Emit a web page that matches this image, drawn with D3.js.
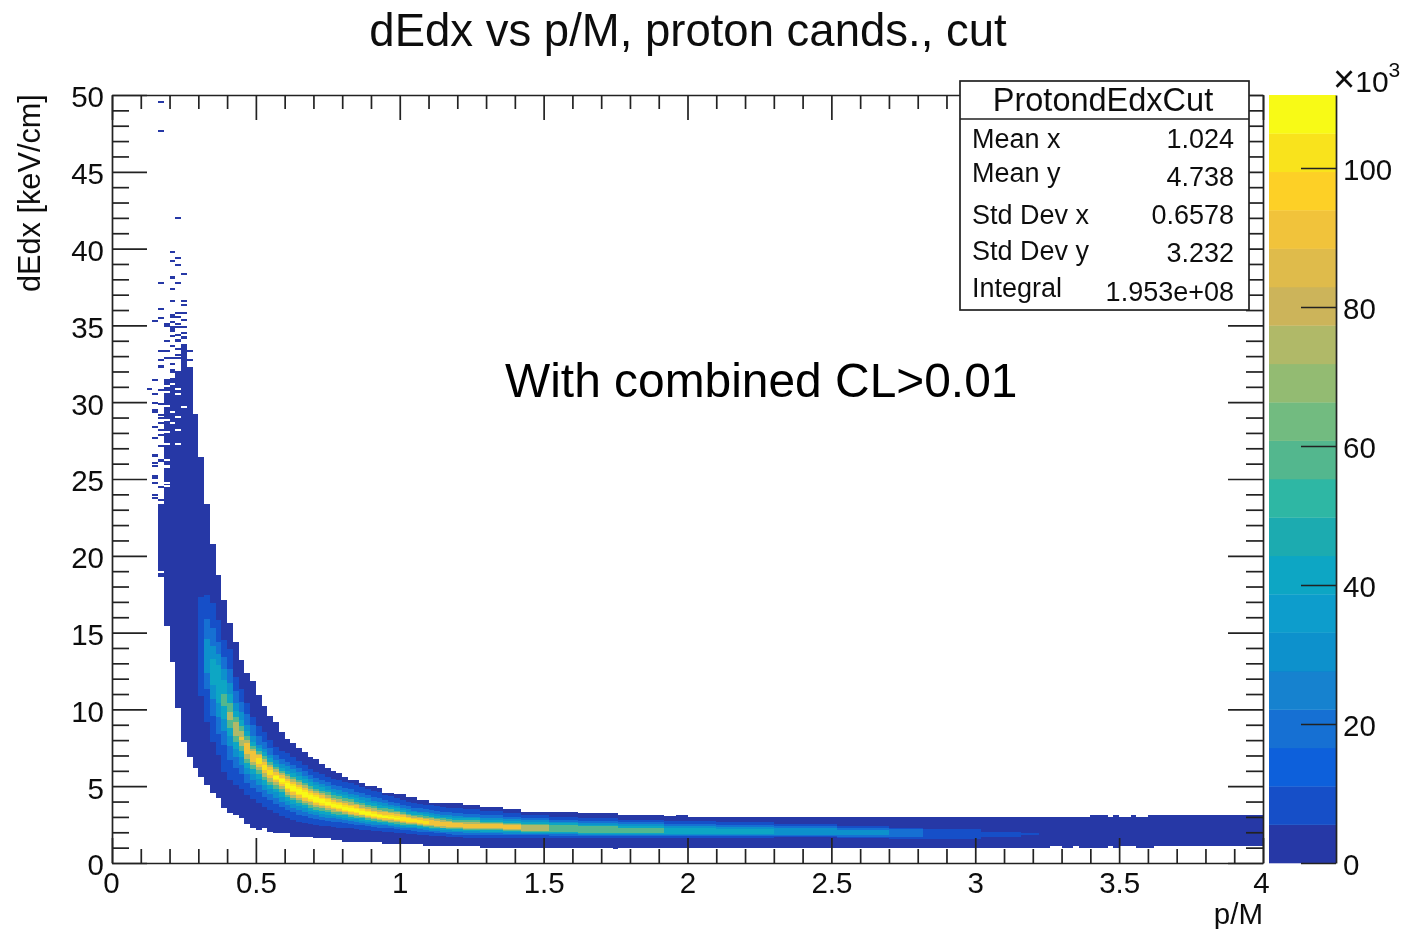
<!DOCTYPE html>
<html lang="en">
<head>
<meta charset="UTF-8">
<title>dEdx vs p/M, proton cands., cut</title>
<style>
  body { margin: 0; background: #fff; overflow: hidden; }
  svg { display: block; }
  text { font-family: "Liberation Sans", Arial, sans-serif; fill: #111; }
  .tick text { font-size: 29.5px; }
  .tick line, .domain { stroke: #222; stroke-width: 1.7px; }
</style>
</head>
<body>
<svg id="chart" width="1410" height="929">
  <defs>
    <filter id="soft" x="0" y="0" width="100%" height="100%">
      <feGaussianBlur stdDeviation="0.6"/>
    </filter>
  </defs>
</svg>
<script src="https://cdn.jsdelivr.net/npm/d3@7"></script>
<script>
// histogram binning
const binWidth = 0.02;
const rowHeight = 0.13;

// colour levels of the palette, bottom to top
const palette = ["#2837a6", "#1450c8", "#0f61db", "#1270d3", "#1282cf", "#0f91cc", "#0a9dcc", "#0ba6c4",
  "#1cabb0", "#2fb7a4", "#52b78e", "#72bb80", "#93bb72", "#b0b968", "#ccb45a", "#dfbb4b",
  "#f1c33a", "#fdd028", "#f9e31b", "#f8fa14"];

// which palette level each lo,hi pair of a row is
const bandLevels = [1, 2, 4, 6, 8, 11, 14, 17, 19, 20, 20, 20];

// from bin, to bin, then lo,hi dEdx for each level
const bandRows = [
  [8, 8, 18.6, 23.4],
  [9, 9, 15.4, 31.5],
  [10, 10, 13.1, 31.6],
  [11, 11, 10.1, 32.0],
  [12, 12, 7.9, 33.8],
  [13, 13, 6.9, 32.3],
  [14, 14, 6.2, 29.2],
  [15, 15, 5.6, 26.4, 10.9, 17.3],
  [16, 16, 5.1, 23.4, 9.2, 17.45, 11.3, 15.9, 12.4, 14.6],
  [17, 17, 4.55, 20.8, 7.9, 16.9, 9.6, 15.3, 10.7, 14.1, 11.6, 13.3],
  [18, 18, 4.2, 18.75, 7.0, 15.8, 8.4, 14.4, 9.5, 13.6, 10.4, 12.9],
  [19, 19, 3.6, 17.1, 5.95, 14.5, 7.7, 13.4, 8.6, 12.6, 9.4, 11.9, 10.2, 11.0],
  [20, 20, 3.25, 15.6, 5.4, 13.9, 6.7, 12.6, 7.6, 11.7, 8.3, 11.0, 8.8, 10.4, 9.3, 9.8],
  [21, 21, 3.1, 14.4, 5.1, 12.1, 6.2, 11.2, 6.9, 10.4, 7.4, 9.9, 7.9, 9.5, 8.3, 9.2],
  [22, 22, 2.9, 13.2, 4.8, 11.3, 5.8, 10.5, 6.4, 9.8, 6.9, 9.3, 7.3, 8.9, 7.6, 8.6, 8.0, 8.2],
  [23, 23, 2.55, 12.4, 4.4, 10.4, 5.2, 9.7, 5.8, 9.0, 6.2, 8.6, 6.5, 8.3, 6.8, 8.0, 7.1, 7.8],
  [24, 24, 2.25, 11.85, 4.15, 9.5, 4.9, 9.0, 5.4, 8.3, 5.8, 7.9, 6.1, 7.6, 6.4, 7.4, 6.6, 7.3],
  [25, 25, 2.15, 10.95, 3.9, 8.9, 4.6, 8.3, 5.1, 7.7, 5.5, 7.5, 5.8, 7.3, 6.05, 7.1, 6.25, 7.0, 6.45, 6.85],
  [26, 26, 2.25, 10.2, 3.65, 8.5, 4.3, 7.9, 4.75, 7.4, 5.1, 7.2, 5.4, 6.95, 5.6, 6.75, 5.85, 6.6, 6.05, 6.4],
  [27, 27, 2.0, 9.6, 3.45, 8.0, 4.1, 7.5, 4.5, 7.05, 4.85, 6.85, 5.1, 6.6, 5.3, 6.4, 5.55, 6.25, 5.7, 6.05],
  [28, 28, 1.95, 9.2, 3.25, 7.55, 3.85, 7.0, 4.25, 6.7, 4.6, 6.45, 4.85, 6.25, 5.05, 6.1, 5.25, 5.9, 5.4, 5.75, 5.5, 5.65],
  [29, 29, 1.95, 8.5, 3.05, 7.3, 3.65, 6.8, 4.0, 6.45, 4.3, 6.2, 4.6, 6.0, 4.8, 5.85, 5.0, 5.7, 5.15, 5.55, 5.25, 5.45],
  [30, 30, 1.95, 8.05, 2.9, 7.15, 3.45, 6.6, 3.75, 6.3, 4.05, 6.0, 4.3, 5.8, 4.45, 5.65, 4.65, 5.5, 4.8, 5.35, 4.9, 5.2],
  [31, 31, 1.7, 7.8, 2.8, 6.9, 3.3, 6.4, 3.6, 6.1, 3.85, 5.85, 4.1, 5.6, 4.25, 5.45, 4.45, 5.3, 4.6, 5.15, 4.7, 5.0],
  [32, 32, 1.7, 7.5, 2.7, 6.65, 3.15, 6.2, 3.45, 5.9, 3.7, 5.65, 3.9, 5.4, 4.1, 5.25, 4.25, 5.1, 4.4, 4.95, 4.5, 4.8],
  [33, 33, 1.7, 7.25, 2.6, 6.4, 3.05, 6.0, 3.3, 5.65, 3.55, 5.45, 3.75, 5.2, 3.9, 5.05, 4.05, 4.9, 4.2, 4.75, 4.3, 4.6],
  [34, 34, 1.7, 6.9, 2.55, 6.15, 2.95, 5.75, 3.2, 5.45, 3.4, 5.25, 3.6, 5.0, 3.75, 4.85, 3.95, 4.7, 4.05, 4.55, 4.15, 4.45],
  [35, 35, 1.6, 6.75, 2.47, 5.95, 2.85, 5.55, 3.1, 5.3, 3.3, 5.05, 3.45, 4.85, 3.65, 4.7, 3.8, 4.55, 3.9, 4.4, 4.0, 4.3],
  [36, 36, 1.6, 6.45, 2.42, 5.8, 2.8, 5.4, 3.0, 5.15, 3.2, 4.95, 3.4, 4.7, 3.55, 4.55, 3.7, 4.4, 3.8, 4.25, 3.9, 4.15],
  [37, 37, 1.6, 6.2, 2.38, 5.6, 2.75, 5.25, 2.95, 5.0, 3.15, 4.75, 3.3, 4.6, 3.45, 4.4, 3.6, 4.25, 3.7, 4.15, 3.8, 4.0],
  [38, 38, 1.5, 6.0, 2.34, 5.5, 2.7, 5.1, 2.9, 4.85, 3.05, 4.6, 3.2, 4.45, 3.35, 4.25, 3.5, 4.1, 3.6, 4.0, 3.65, 3.87],
  [39, 39, 1.5, 5.85, 2.3, 5.4, 2.65, 5.0, 2.85, 4.75, 3.0, 4.5, 3.15, 4.35, 3.3, 4.15, 3.4, 4.0, 3.5, 3.9, 3.57, 3.77],
  [40, 40, 1.37, 5.6, 2.28, 5.3, 2.6, 4.9, 2.8, 4.65, 2.95, 4.4, 3.1, 4.25, 3.2, 4.05, 3.3, 3.9, 3.4, 3.8, 3.47, 3.67],
  [41, 41, 1.37, 5.4, 2.25, 5.2, 2.55, 4.8, 2.75, 4.5, 2.85, 4.3, 3.0, 4.15, 3.1, 3.95, 3.2, 3.8, 3.3, 3.7, 3.37, 3.57],
  [42, 42, 1.37, 5.4, 2.2, 5.05, 2.5, 4.65, 2.7, 4.4, 2.85, 4.2, 2.95, 4.0, 3.05, 3.85, 3.15, 3.75, 3.25, 3.6, 3.32, 3.5],
  [43, 43, 1.37, 5.2, 2.17, 4.95, 2.45, 4.55, 2.6, 4.3, 2.75, 4.1, 2.9, 3.9, 3.0, 3.75, 3.1, 3.6, 3.15, 3.5, 3.22, 3.4],
  [44, 44, 1.37, 5.0, 2.13, 4.85, 2.4, 4.4, 2.55, 4.2, 2.7, 4.0, 2.8, 3.8, 2.9, 3.65, 3.0, 3.5, 3.08, 3.4, 3.13, 3.3],
  [45, 45, 1.37, 5.0, 2.1, 4.7, 2.35, 4.3, 2.5, 4.05, 2.65, 3.9, 2.75, 3.7, 2.85, 3.55, 2.93, 3.4, 3.0, 3.3, 3.05, 3.2],
  [46, 46, 1.37, 4.9, 2.07, 4.6, 2.3, 4.2, 2.45, 3.95, 2.6, 3.8, 2.7, 3.6, 2.8, 3.45, 2.87, 3.3, 2.93, 3.2, 2.97, 3.1],
  [47, 47, 1.24, 4.55, 2.05, 4.45, 2.3, 4.1, 2.45, 3.9, 2.55, 3.7, 2.65, 3.55, 2.75, 3.4, 2.83, 3.3, 2.9, 3.15, 2.94, 3.05],
  [48, 48, 1.24, 4.55, 2.0, 4.35, 2.25, 4.0, 2.4, 3.8, 2.5, 3.65, 2.6, 3.5, 2.7, 3.35, 2.78, 3.25, 2.85, 3.1, 2.9, 3.0],
  [49, 49, 1.24, 4.5, 1.98, 4.25, 2.2, 3.9, 2.35, 3.7, 2.45, 3.55, 2.55, 3.4, 2.65, 3.3, 2.73, 3.2, 2.8, 3.05, 2.85, 2.95],
  [50, 50, 1.24, 4.5, 1.95, 4.1, 2.15, 3.8, 2.3, 3.6, 2.4, 3.45, 2.5, 3.3, 2.6, 3.2, 2.67, 3.1, 2.73, 3.0],
  [51, 51, 1.24, 4.3, 1.92, 4.0, 2.15, 3.7, 2.25, 3.5, 2.35, 3.35, 2.45, 3.2, 2.55, 3.1, 2.62, 3.0, 2.69, 2.92],
  [52, 52, 1.24, 4.3, 1.88, 3.9, 2.1, 3.6, 2.25, 3.4, 2.35, 3.3, 2.45, 3.15, 2.52, 3.05, 2.6, 2.95, 2.66, 2.85],
  [53, 53, 1.24, 4.1, 1.85, 3.85, 2.05, 3.55, 2.2, 3.35, 2.3, 3.25, 2.4, 3.1, 2.48, 3.0, 2.55, 2.9, 2.62, 2.8],
  [54, 54, 1.1, 4.1, 1.82, 3.8, 2.0, 3.5, 2.15, 3.3, 2.25, 3.2, 2.35, 3.05, 2.42, 2.95, 2.5, 2.85, 2.56, 2.75],
  [55, 55, 1.1, 3.9, 1.79, 3.75, 2.0, 3.45, 2.1, 3.25, 2.2, 3.1, 2.3, 3.0, 2.38, 2.9, 2.45, 2.8],
  [56, 56, 1.1, 3.9, 1.76, 3.7, 1.95, 3.4, 2.1, 3.2, 2.2, 3.05, 2.25, 2.95, 2.33, 2.85, 2.4, 2.75],
  [57, 57, 1.1, 3.9, 1.73, 3.65, 1.95, 3.35, 2.05, 3.15, 2.15, 3.0, 2.25, 2.9, 2.3, 2.8, 2.38, 2.7],
  [58, 58, 1.1, 3.9, 1.7, 3.6, 1.9, 3.3, 2.05, 3.1, 2.15, 3.0, 2.2, 2.85, 2.3, 2.75, 2.35, 2.65],
  [59, 60, 1.1, 3.9, 1.68, 3.55, 1.85, 3.25, 2.0, 3.05, 2.1, 2.95, 2.2, 2.82, 2.27, 2.7, 2.33, 2.6],
  [61, 63, 1.1, 3.77, 1.66, 3.5, 1.85, 3.2, 1.98, 3.0, 2.08, 2.9, 2.17, 2.78, 2.24, 2.67, 2.3, 2.57],
  [64, 67, 1.0, 3.63, 1.63, 3.4, 1.8, 3.1, 1.95, 2.95, 2.05, 2.8, 2.12, 2.7, 2.2, 2.6, 2.25, 2.52],
  [68, 70, 1.0, 3.5, 1.63, 3.25, 1.8, 3.0, 1.9, 2.85, 2.0, 2.72, 2.08, 2.62, 2.15, 2.52, 2.2, 2.45],
  [71, 75, 1.0, 3.33, 1.63, 3.1, 1.8, 2.9, 1.9, 2.78, 1.98, 2.65, 2.05, 2.55, 2.1, 2.45],
  [76, 80, 1.0, 3.33, 1.63, 3.0, 1.78, 2.82, 1.88, 2.7, 1.95, 2.6, 2.0, 2.48],
  [81, 86, 1.0, 3.24, 1.63, 2.9, 1.76, 2.75, 1.85, 2.62, 1.92, 2.5, 1.97, 2.4],
  [87, 87, 0.9, 3.24, 1.63, 2.9, 1.76, 2.75, 1.85, 2.62, 1.92, 2.5, 1.97, 2.4],
  [88, 95, 1.0, 3.1, 1.63, 2.8, 1.75, 2.65, 1.83, 2.55, 1.88, 2.42, 1.93, 2.3],
  [96, 97, 1.0, 3.05, 1.63, 2.72, 1.75, 2.55, 1.83, 2.42, 1.88, 2.3],
  [98, 99, 1.0, 3.12, 1.63, 2.72, 1.75, 2.55, 1.83, 2.42, 1.88, 2.3],
  [100, 104, 1.0, 3.0, 1.63, 2.72, 1.75, 2.55, 1.83, 2.42, 1.88, 2.3],
  [105, 114, 1.0, 3.0, 1.65, 2.65, 1.76, 2.47, 1.83, 2.35, 1.9, 2.2],
  [115, 125, 1.0, 3.0, 1.7, 2.55, 1.78, 2.4, 1.85, 2.25],
  [126, 134, 1.0, 3.0, 1.6, 2.4, 1.7, 2.27, 1.85, 2.15],
  [135, 140, 1.0, 3.0, 1.55, 2.3, 1.7, 2.2],
  [141, 150, 1.0, 3.0, 1.55, 2.2],
  [151, 157, 1.0, 3.0, 1.7, 2.05],
  [158, 160, 1.0, 3.0, 1.85, 1.98],
  [161, 162, 1.0, 3.0],
  [163, 164, 1.1, 3.0],
  [165, 166, 1.0, 3.0],
  [167, 167, 1.1, 3.0],
  [168, 169, 1.0, 3.0],
  [170, 172, 1.0, 3.1],
  [173, 173, 1.1, 3.0],
  [174, 174, 1.0, 3.1],
  [175, 176, 1.1, 3.0],
  [177, 177, 1.1, 3.1],
  [178, 179, 1.0, 3.0],
  [180, 180, 1.0, 3.1],
  [181, 199, 1.1, 3.1]
];

// single filled bins standing clear of the band: bin, dEdx
const sparseCells = [
  [8, 49.5], [8, 47.6], [11, 41.9], [10, 39.7], [11, 39.3], [10, 39.1], [11, 38.85], [12, 38.3],
  [10, 38.0], [10, 38.1], [8, 37.7], [11, 37.7], [10, 37.3], [10, 36.5], [12, 36.5], [12, 36.25],
  [8, 36.0], [11, 35.75], [12, 35.75], [10, 35.6], [10, 35.5], [11, 35.5], [8, 35.4], [12, 35.3],
  [7, 35.2], [10, 35.15], [11, 35.05], [9, 35.0], [9, 34.9], [10, 34.85], [11, 34.85], [12, 34.85],
  [10, 34.7], [10, 34.6], [12, 34.45], [11, 34.3], [10, 34.25], [12, 34.2], [12, 34.1], [11, 34.0],
  [11, 33.9], [9, 33.9], [10, 33.6], [11, 33.4], [8, 33.3], [9, 33.3], [13, 33.3], [11, 33.0],
  [9, 32.8], [10, 32.8], [11, 32.8], [8, 32.7], [13, 32.7], [10, 32.4], [8, 32.3], [8, 32.2],
  [10, 32.0], [10, 31.9], [7, 31.4], [6, 30.8], [8, 30.7], [7, 30.5], [7, 29.9], [8, 29.8],
  [7, 29.4], [7, 29.3], [8, 29.1], [8, 28.9], [8, 28.6], [7, 28.3], [8, 28.1], [8, 27.8],
  [7, 27.6], [8, 27.1], [7, 26.5], [7, 26.4], [8, 26.2], [8, 26.1], [7, 26.0], [7, 25.8],
  [7, 25.1], [7, 25.0], [7, 24.7], [8, 24.4], [7, 23.9], [7, 23.7], [8, 23.6]
];

// empty bins punched into the solid part: bin, dEdx
const emptyCells = [
  [9, 31.0], [9, 30.6], [9, 29.7], [10, 31.1], [11, 30.8], [11, 30.5], [12, 29.6], [10, 29.3],
  [11, 29.0], [9, 28.8], [10, 28.6], [11, 28.1], [9, 28.0], [9, 27.2], [11, 27.2], [9, 26.2],
  [9, 25.8], [9, 25.7], [9, 24.7], [9, 24.5], [8, 18.9]
];

const xMajor = [0, 0.5, 1, 1.5, 2, 2.5, 3, 3.5, 4];
const yMajor = [0, 5, 10, 15, 20, 25, 30, 35, 40, 45, 50];
const zTicks = [0, 20, 40, 60, 80, 100];
const zMax = 110.5;

const statsTitle = "ProtondEdxCut";
const statsNames = ["Mean x", "Mean y", "Std Dev x", "Std Dev y", "Integral"];
const statsValues = ["1.024", "4.738", "0.6578", "3.232", "1.953e+08"];

const svg = d3.select("#chart");
const root = svg.append("g").attr("filter", "url(#soft)");

const margin = { left: 112, right: 1263, top: 95, bottom: 863 };
const x = d3.scaleLinear().domain([0, 4]).range([margin.left, margin.right]);
const y = d3.scaleLinear().domain([0, 50]).range([margin.bottom, margin.top]);
const z = d3.scaleLinear().domain([0, zMax]).range([margin.bottom, margin.top]);

// flatten the rows into one rect per level, low levels painted first
const bands = [];
bandRows.forEach(r => {
  for (let k = 0; k * 2 + 2 < r.length; k++) {
    bands.push({ from: r[0], to: r[1], lo: r[2 + k * 2], hi: r[3 + k * 2], level: bandLevels[k], order: k });
  }
});
bands.sort((a, b) => a.order - b.order);

// bin edges snapped to whole pixels so neighbouring columns join without seams
const xEdge = bin => Math.round(x(bin * binWidth));
const heat = root.append("g").attr("shape-rendering", "crispEdges");
heat.selectAll("rect.band").data(bands).enter().append("rect")
  .attr("class", "band")
  .attr("x", d => xEdge(d.from))
  .attr("width", d => xEdge(d.to + 1) - xEdge(d.from))
  .attr("y", d => y(d.hi))
  .attr("height", d => y(d.lo) - y(d.hi))
  .attr("fill", d => palette[d.level - 1]);

const cell = (sel, data, colour) => sel.selectAll(null).data(data).enter().append("rect")
  .attr("x", d => xEdge(d[0]))
  .attr("width", d => xEdge(d[0] + 1) - xEdge(d[0]))
  .attr("y", d => y(d[1] + rowHeight))
  .attr("height", y(0) - y(rowHeight))
  .attr("fill", colour);
cell(heat, emptyCells, "#fff");
cell(heat, sparseCells, palette[0]);

// frame with ticks on all four sides
function minors(major, n) {
  const out = [];
  for (let i = 0; i < major.length - 1; i++) {
    for (let j = 1; j < n; j++) out.push(major[i] + (major[i + 1] - major[i]) * j / n);
  }
  return out;
}
const xMinor = minors(xMajor, 5);
const yMinor = minors(yMajor, 5);
const translate = (dx, dy) => `translate(${dx},${dy})`;

function addAxis(axisFn, scale, major, minor, lenMajor, lenMinor, pos, labels) {
  root.append("g").attr("transform", translate(pos[0], pos[1]))
    .call(axisFn(scale).tickValues(minor).tickSize(lenMinor).tickFormat(""))
    .call(g => g.select(".domain").remove());
  return root.append("g").attr("transform", translate(pos[0], pos[1]))
    .call(axisFn(scale).tickValues(major).tickSize(lenMajor).tickSizeOuter(0).tickFormat(labels ? d3.format("") : ""));
}
addAxis(d3.axisBottom, x, xMajor, xMinor, -25, -14, [0, margin.bottom], true)
  .call(g => g.selectAll("text").attr("y", 30).attr("dy", 0).attr("text-anchor", "middle")
    .each(function (d) { if (d === 4) d3.select(this).attr("dx", -2); if (d === 0) d3.select(this).attr("dx", -1); }));
addAxis(d3.axisTop, x, xMajor, xMinor, -25, -14, [0, margin.top], false);
addAxis(d3.axisLeft, y, yMajor, yMinor, -35, -17, [margin.left, 0], true)
  .call(g => g.selectAll("text").attr("x", -8).attr("dy", "0.4em"));
addAxis(d3.axisRight, y, yMajor, yMinor, -35, -17, [margin.right, 0], false);

// colour bar
const barLeft = 1269, barRight = 1336;
root.append("g").selectAll("rect").data(palette).enter().append("rect")
  .attr("x", barLeft)
  .attr("width", barRight - barLeft)
  .attr("y", (d, i) => z((i + 1) * zMax / palette.length))
  .attr("height", z(0) - z(zMax / palette.length) + 0.3)
  .attr("fill", d => d);
root.append("g").attr("transform", translate(barRight, 0))
  .call(d3.axisRight(z).tickValues(zTicks).tickSize(-35).tickSizeOuter(0).tickFormat(d3.format("")))
  .call(g => g.selectAll("text").attr("x", 7).attr("dy", "0.38em"));

const exp = root.append("text").attr("x", 1333).attr("y", 92).style("font-size", "30px");
exp.append("tspan").text("\u00d7").style("font-size", "38px");
exp.append("tspan").text("10");
exp.append("tspan").text("3").attr("dy", -15).style("font-size", "21px");

// titles
root.append("text").attr("x", 688).attr("y", 46).attr("text-anchor", "middle")
  .style("font-size", "45.5px").text("dEdx vs p/M, proton cands., cut");
root.append("text").attr("x", 1263).attr("y", 924).attr("text-anchor", "end")
  .style("font-size", "29.5px").text("p/M");
root.append("text").attr("transform", `translate(40,292) rotate(-90)`)
  .style("font-size", "30.7px").text("dEdx [keV/cm]");
root.append("text").attr("x", 505).attr("y", 397)
  .style("font-size", "47.9px").style("fill", "#000").text("With combined CL>0.01");

// stats box
const box = root.append("g");
box.append("rect").attr("x", 960).attr("y", 81).attr("width", 289).attr("height", 229)
  .attr("fill", "#fff").attr("stroke", "#222").attr("stroke-width", 1.7);
box.append("line").attr("x1", 960).attr("x2", 1249).attr("y1", 119).attr("y2", 119)
  .attr("stroke", "#222").attr("stroke-width", 1.7);
box.append("text").attr("x", 1103).attr("y", 111).attr("text-anchor", "middle")
  .style("font-size", "32.5px").text(statsTitle);
const nameBase = [148, 182, 224, 260, 297];
const valueBase = [148, 186, 224, 262, 301];
box.selectAll("text.name").data(statsNames).enter().append("text")
  .attr("class", "name").attr("x", 972).attr("y", (d, i) => nameBase[i])
  .style("font-size", "27px").text(d => d);
box.selectAll("text.value").data(statsValues).enter().append("text")
  .attr("class", "value").attr("x", 1234).attr("y", (d, i) => valueBase[i]).attr("text-anchor", "end")
  .style("font-size", "27px").text(d => d);
</script>
</body>
</html>
